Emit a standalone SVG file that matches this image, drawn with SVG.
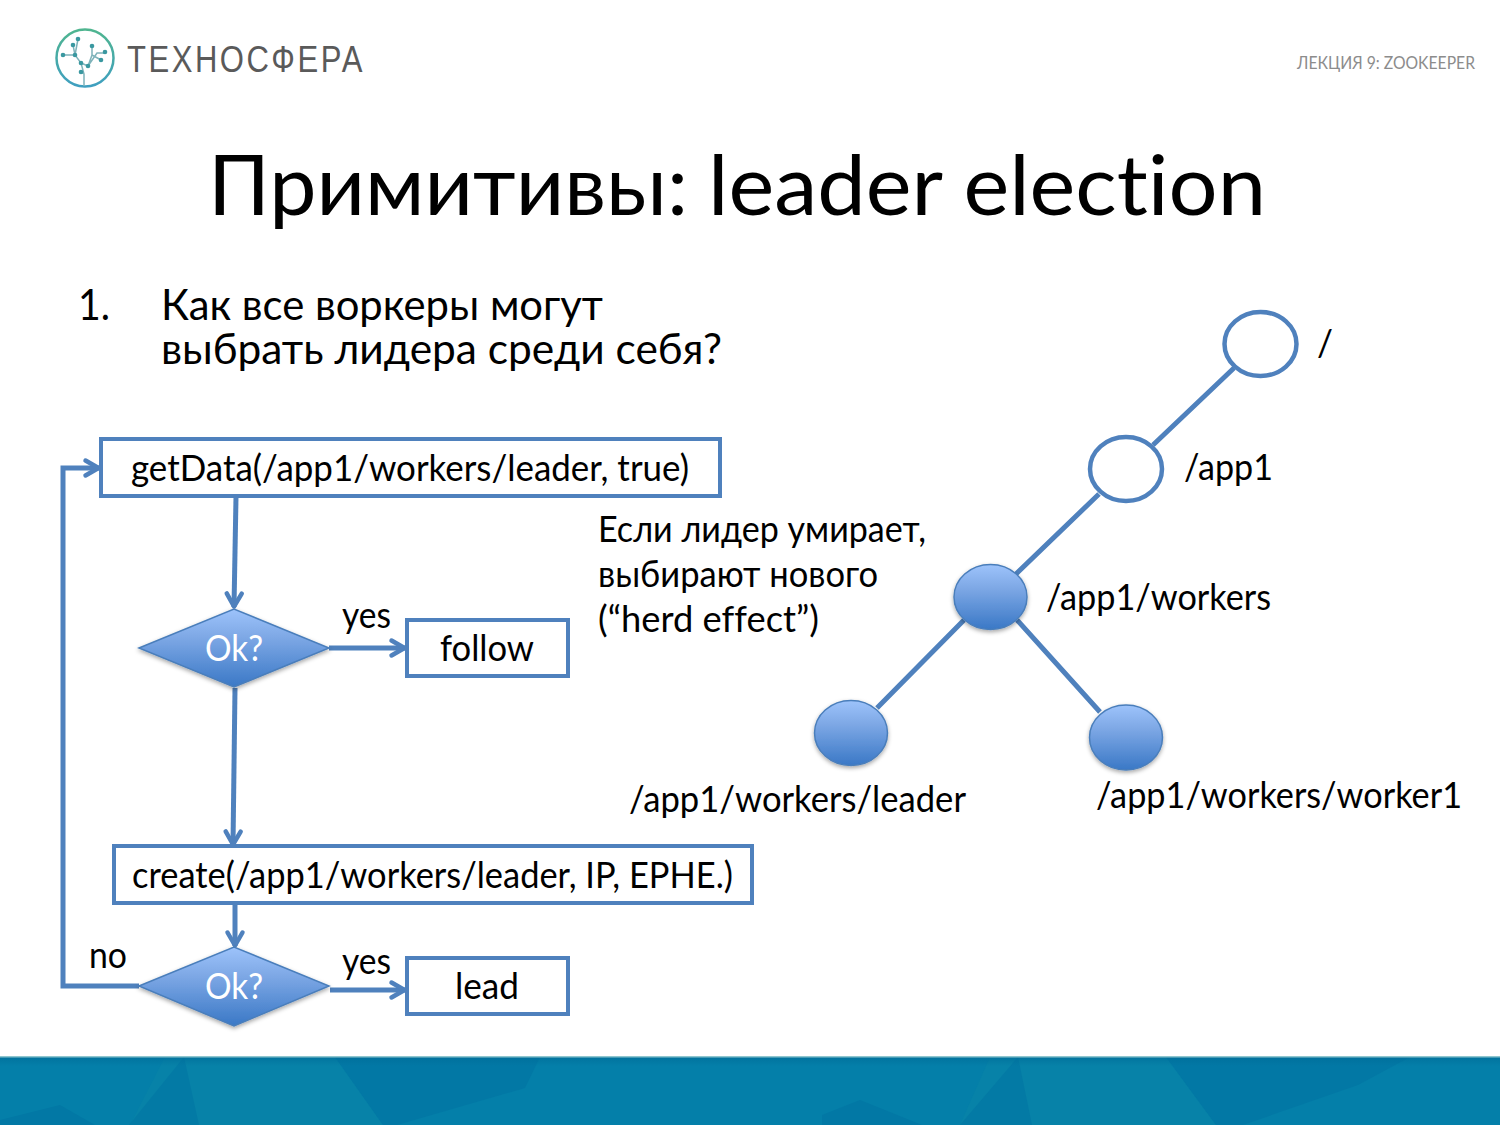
<svg xmlns="http://www.w3.org/2000/svg" width="1500" height="1125" viewBox="0 0 1500 1125">
<defs>
<style>
text{font-family:"Lato","Open Sans","Noto Sans",sans-serif;fill:#000;font-variant-ligatures:none}
.t{font-size:36px}
.b{font-size:42px}
.box{fill:#fff;stroke:#4f81bd;stroke-width:4}
.c{fill:none;stroke:#4f81bd;stroke-width:5}
.a{marker-end:url(#ah)}
.w{fill:#fff;stroke:#4f81bd;stroke-width:4.500}
.f{fill:url(#g);stroke:#4a7ebb;stroke-width:1.500;filter:url(#s)}
.dk{fill:#0072a2;opacity:.5}
.lt{fill:#0a86a8;opacity:.5}
</style>
<linearGradient id="g" x1="0" y1="0" x2="0" y2="1"><stop offset="0" stop-color="#9dc3fb"/><stop offset="0.35" stop-color="#7fa9e6"/><stop offset="1" stop-color="#3a78c6"/></linearGradient>
<linearGradient id="top" x1="0" y1="0" x2="0" y2="1"><stop offset="0" stop-color="#006d99" stop-opacity=".7"/><stop offset="1" stop-color="#006d99" stop-opacity="0"/></linearGradient>
<linearGradient id="lg" x1="0" y1="0" x2="0" y2="1"><stop offset="0" stop-color="#4fb58f"/><stop offset="1" stop-color="#3f9fc0"/></linearGradient>
<filter id="s" x="-20%" y="-20%" width="140%" height="150%"><feDropShadow dx="0" dy="2" stdDeviation="2" flood-color="#000" flood-opacity="0.35"/></filter>
<marker id="ah" viewBox="0 0 20 22" refX="17" refY="11" markerWidth="20" markerHeight="22" markerUnits="userSpaceOnUse" orient="auto"><path d="M3.500 3.500 L16.500 11 L3.500 18.500" fill="none" stroke="#4f81bd" stroke-width="4.500" stroke-linecap="round" stroke-linejoin="round"/></marker>
</defs>
<rect width="1500" height="1125" fill="#fff"/>
<g id="footer">
<rect y="1057" width="1500" height="68" fill="#047fa9"/>
<path class="lt" d="M130 1125L165 1057H335L383 1125Z"/>
<path class="lt" d="M960 1125L990 1057H1166L1216 1125Z"/>
<path class="dk" d="M129 1125L184 1057L199 1125Z"/>
<path class="dk" d="M960 1125L1018 1057L1032 1125Z"/>
<path class="dk" d="M335 1057H540L525 1088L397 1125H383Z"/>
<path class="dk" d="M1166 1057H1410L1358 1085L1243 1125H1216Z"/>
<path class="dk" d="M0 1120L60 1105L95 1125H0Z"/>
<path class="dk" d="M822 1115L860 1100L922 1125H822Z"/>
<rect y="1057" width="1500" height="9" fill="url(#top)"/>
<rect y="1056" width="1500" height="1.500" fill="#8fc6cf"/>
</g>
<g id="logo">
<circle cx="85" cy="58" r="28.500" fill="none" stroke="url(#lg)" stroke-width="2.500"/>
<path d="M84 86V74L81 63L75 55L73 45M75 55L78 39M75 55H63M81 63L88 66L92 55L92 46M84 74L81 72M88 66L97 53H105M92 55L101 60" fill="none" stroke="#7fb3ba" stroke-width="1.500"/>
<g fill="#3a98a0"><circle cx="78" cy="39" r="2.300"/><circle cx="73" cy="45" r="2.300"/><circle cx="92" cy="46" r="2.300"/><circle cx="105" cy="52" r="2.300"/><circle cx="63" cy="55" r="2.300"/><circle cx="75" cy="55" r="2.300"/><circle cx="101" cy="60" r="2.300"/><circle cx="88" cy="66" r="2.300"/><circle cx="81" cy="63" r="2.300"/><circle cx="81" cy="72" r="2.300"/></g>
<text x="127" y="72" font-size="37" style="font-family:'Liberation Sans',sans-serif;fill:#5a5a5a;letter-spacing:3px" textLength="238" lengthAdjust="spacingAndGlyphs">ТЕХНОСФЕРА</text>
</g>
<text x="1297" y="69" font-size="17" style="fill:#8c8c8c" textLength="178" lengthAdjust="spacingAndGlyphs">ЛЕКЦИЯ 9: ZOOKEEPER</text>
<text y="215" font-size="84"><tspan x="208" textLength="480" lengthAdjust="spacingAndGlyphs">Примитивы:</tspan> <tspan x="708" textLength="558" lengthAdjust="spacingAndGlyphs">leader election</tspan></text>
<text class="b" x="78" y="320" textLength="32" lengthAdjust="spacingAndGlyphs">1.</text>
<text class="b" x="161" y="320" textLength="442" lengthAdjust="spacingAndGlyphs">Как все воркеры могут</text>
<text class="b" x="161" y="364" textLength="561" lengthAdjust="spacingAndGlyphs">выбрать лидера среди себя?</text>
<g id="connectors">
<path class="c a" d="M236 497L234 607"/>
<path class="c a" d="M329 648H405"/>
<path class="c a" d="M235 688L233 845"/>
<path class="c a" d="M235 904V946"/>
<path class="c a" d="M330 990H405"/>
<path class="c a" d="M139 986H63V468H99"/>
<path class="c" d="M1234 368L1153 445M1099 494L1016 574M964 620L877 708M1017 620L1100 712"/>
</g>
<g id="n-getdata"><rect class="box" x="101" y="439" width="619" height="57"/><text class="t" x="131" y="481" textLength="558" lengthAdjust="spacingAndGlyphs">getData(/app1/workers/leader, true)</text></g>
<g id="n-ok1"><path class="f" d="M139 648L234 609L329 648L234 687Z"/><text class="t" x="205" y="661" style="fill:#fff" textLength="58" lengthAdjust="spacingAndGlyphs">Ok?</text></g>
<g id="n-follow"><rect class="box" x="407" y="620" width="161" height="56"/><text class="t" x="440" y="661" textLength="94" lengthAdjust="spacingAndGlyphs">follow</text></g>
<text class="t" x="342" y="628" textLength="49" lengthAdjust="spacingAndGlyphs">yes</text>
<g id="n-create"><rect class="box" x="114" y="846" width="638" height="57"/><text class="t" x="132" y="888" textLength="601" lengthAdjust="spacingAndGlyphs">create(/app1/workers/leader, IP, EPHE.)</text></g>
<g id="n-ok2"><path class="f" d="M139 986L234 947L329 986L234 1026Z"/><text class="t" x="205" y="999" style="fill:#fff" textLength="58" lengthAdjust="spacingAndGlyphs">Ok?</text></g>
<g id="n-lead"><rect class="box" x="407" y="958" width="161" height="56"/><text class="t" x="455" y="999" textLength="64" lengthAdjust="spacingAndGlyphs">lead</text></g>
<text class="t" x="342" y="974" textLength="49" lengthAdjust="spacingAndGlyphs">yes</text>
<text class="t" x="89" y="968" textLength="38" lengthAdjust="spacingAndGlyphs">no</text>
<text class="t" x="598" y="542" textLength="328" lengthAdjust="spacingAndGlyphs">Если лидер умирает,</text>
<text class="t" x="598" y="587" textLength="280" lengthAdjust="spacingAndGlyphs">выбирают нового</text>
<text class="t" x="598" y="632" textLength="221" lengthAdjust="spacingAndGlyphs">(“herd effect”)</text>
<g id="n-root"><ellipse class="w" cx="1260.500" cy="344" rx="36" ry="32"/><text class="t" x="1317" y="356" textLength="16" lengthAdjust="spacingAndGlyphs">/</text></g>
<g id="n-app1"><ellipse class="w" cx="1126" cy="469" rx="36" ry="32"/><text class="t" x="1184" y="480" textLength="89" lengthAdjust="spacingAndGlyphs">/app1</text></g>
<g id="n-workers"><ellipse class="f" cx="990.500" cy="597" rx="36.500" ry="32.500"/><text class="t" x="1046" y="610" textLength="225" lengthAdjust="spacingAndGlyphs">/app1/workers</text></g>
<g id="n-leader"><ellipse class="f" cx="851" cy="733" rx="36.500" ry="32.500"/><text class="t" x="629" y="812" textLength="337" lengthAdjust="spacingAndGlyphs">/app1/workers/leader</text></g>
<g id="n-worker1"><ellipse class="f" cx="1126" cy="737.500" rx="36.500" ry="32.500"/><text class="t" x="1096" y="808" textLength="366" lengthAdjust="spacingAndGlyphs">/app1/workers/worker1</text></g>
</svg>
